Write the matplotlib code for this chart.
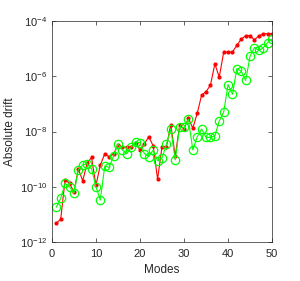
import numpy as np
import matplotlib
matplotlib.use('Agg')
import matplotlib.pyplot as plt
from matplotlib.ticker import NullLocator

plt.rcParams['font.family'] = ['Liberation Sans', 'DejaVu Sans']

modes = np.arange(1, 51)
yticks = [1e-12, 1e-10, 1e-8, 1e-6, 1e-4]

# log10 of absolute drift
red_log = [-11.33, -11.17, -9.75, -9.88, -10.18, -9.36, -9.78, -9.15, -8.94, -9.95,
           -9.21, -8.81, -8.91, -8.81, -8.49, -8.56, -8.57, -8.55, -8.42, -8.67,
           -8.45, -8.19, -8.52, -9.73, -8.55, -8.55, -7.75, -8.9, -7.78, -7.9,
           -7.52, -7.88, -7.34, -6.68, -6.56, -6.32, -5.55, -6.03, -5.13, -5.12,
           -5.12, -4.88, -4.65, -4.53, -4.53, -4.68, -4.53, -4.46, -4.46, -4.46]
green_log = [-10.74, -10.42, -9.88, -10.0, -10.24, -9.39, -9.21, -9.17, -9.35, -10.0,
             -10.48, -9.25, -9.3, -8.89, -8.45, -8.67, -8.81, -8.57, -8.37, -8.41,
             -8.8, -8.91, -8.67, -9.06, -8.96, -8.47, -7.9, -9.03, -7.85, -7.85,
             -7.56, -8.67, -8.19, -7.91, -8.21, -8.21, -8.16, -7.62, -7.3, -6.3,
             -6.65, -5.72, -5.82, -6.15, -5.27, -4.96, -5.06, -4.96, -4.78, -4.65]

red = 10.0 ** np.array(red_log)
green = 10.0 ** np.array(green_log)

fig = plt.figure(figsize=(3.0, 2.81), dpi=100)
ax = fig.add_axes([0.173, 0.139, 0.734, 0.786])

ax.semilogy(modes, red, '-', color='red', lw=0.8, marker='.', markersize=4)
ax.semilogy(modes, green, '-', color=(0, 1, 0), lw=0.8, marker='o',
            markersize=6, markerfacecolor='none', markeredgewidth=0.9)

ax.set_xlim(0, 50)
ax.set_ylim(1e-12, 1e-4)
ax.set_xticks([0, 10, 20, 30, 40, 50])
ax.set_yticks(yticks)
ax.yaxis.set_minor_locator(NullLocator())

for s in ax.spines.values():
    s.set_color('#262626')
    s.set_linewidth(0.5)
ax.tick_params(direction='in', top=True, right=True, length=3, width=0.5,
               colors='#262626', labelsize=8)
ax.tick_params(axis='x', pad=5)
ax.set_xlabel('Modes', fontsize=8.5, color='#262626', labelpad=4)
ax.set_ylabel('Absolute drift', fontsize=8.5, color='#262626', labelpad=3)

fig.savefig('out.png', dpi=100)
